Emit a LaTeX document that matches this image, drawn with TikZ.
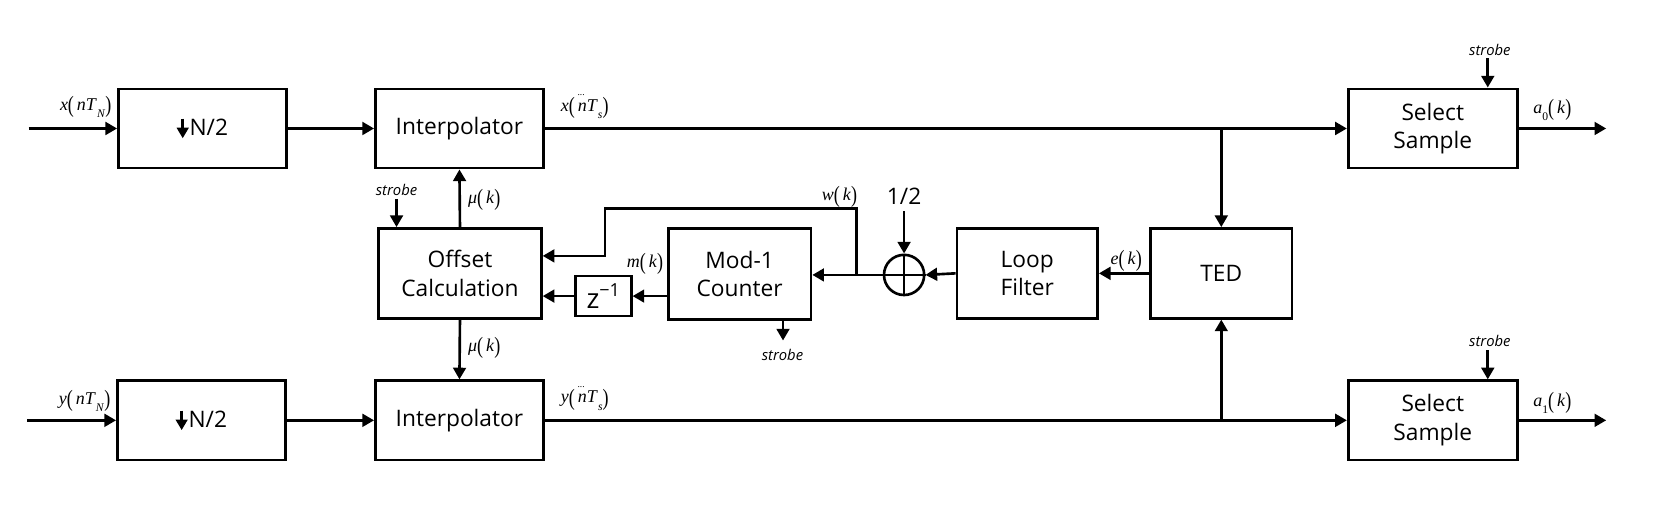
\documentclass[tikz,border=0pt]{standalone}
\usepackage{graphicx}
\usepackage{fontspec}
\setmainfont{Open Sans}
\newfontfamily\tms{Liberation Serif}
\usetikzlibrary{arrows.meta}
\newcommand\boxfont{\fontsize{21.5}{27}\selectfont}
\newcommand\labfont{\fontsize{17}{19}\selectfont\tms}
\newcommand\strfont{\fontsize{14}{16}\selectfont\itshape}
\newcommand\vr[1]{\textit{#1}}
\newcommand\lp{\raisebox{-0.12em}{\scalebox{1}[1.3]{(}}}
\newcommand\rp{\raisebox{-0.12em}{\scalebox{1}[1.3]{)}}}
\newcommand\sbs[1]{\raisebox{-0.42em}{\fontsize{11}{11}\selectfont #1}}
\newcommand\dn{\makebox[0pt][l]{\raisebox{0.85em}{\kern-0.02em\fontsize{9}{9}\selectfont...}}\vr{n}}
\newcommand\dwn{\tikz[baseline=0pt]{\draw[line width=2.4pt,-{Triangle[length=10pt,width=11pt]}] (0pt,16pt) -- (0pt,-2.5pt);}\kern1pt}
\begin{document}
\begin{tikzpicture}[x=1pt,y=-1pt,line width=2.5pt,
  blk/.style={draw, line width=2.5pt, align=center, inner sep=0pt, font=\boxfont},
  arr/.style={-{Triangle[length=11pt,width=12pt]}},
  lab/.style={inner sep=0pt, font=\labfont},
  strl/.style={inner sep=0pt, font=\strfont}]
\useasboundingbox (0,0) rectangle (1568,488);

% blocks
\node[blk, minimum width=159pt, minimum height=75pt] (nd1) at (191.5,121.5) {\dwn N/2};
\node[blk, minimum width=159pt, minimum height=75pt] (ip1) at (434.5,121.5) {Interpolator};
\node[blk, minimum width=160pt, minimum height=75pt] (ss1) at (1355,121.5) {Select\\Sample};
\node[blk, minimum width=154pt, minimum height=85pt] (off) at (435,258.5) {Offset\\Calculation};
\node[blk, minimum width=53pt, minimum height=38pt] (zb) at (570.5,280) {{\fontsize{26}{26}\selectfont z}\raisebox{0.55em}{\fontsize{17}{17}\selectfont −1}};
\node[blk, minimum width=135pt, minimum height=86pt] (mod) at (699.5,259) {Mod-1\\Counter};
\node[circle, draw, line width=2.5pt, minimum size=38pt, inner sep=0pt] (add) at (855,260) {};
\node[blk, minimum width=133pt, minimum height=85pt] (lf) at (971.5,258.5) {Loop\\Filter};
\node[blk, minimum width=134pt, minimum height=85pt] (ted) at (1155,258.5) {TED};
\node[blk, minimum width=159pt, minimum height=75pt] (nd2) at (190.5,397.5) {\dwn N/2};
\node[blk, minimum width=159pt, minimum height=75pt] (ip2) at (434.5,397.5) {Interpolator};
\node[blk, minimum width=160pt, minimum height=75pt] (ss2) at (1355,397.5) {Select\\Sample};

\draw[line width=1.6pt] (add.north) -- (add.south) (add.west) -- (add.east);

% coordinates
\coordinate (in1) at (27,121.5);
\coordinate (in2) at (26,397.5);
\coordinate (out1) at (1519,121.5);
\coordinate (out2) at (1519,397.5);
\coordinate (j1) at (ted.north |- ip1.east);
\coordinate (j2) at (ted.south |- ip2.east);
\coordinate (st1) at (1407,55);
\coordinate (st2) at (1407,331);
\coordinate (st3) at (375,188);
\coordinate (ms) at (740.5,302);
\coordinate (mse) at (740.5,322);
\coordinate (hf) at (855,200);
\coordinate (wj) at (810,260);
\coordinate (wt) at (572,197);
\coordinate (wl) at (off.east |- 0,242);

% top row
\draw[arr] (in1) -- (nd1.west);
\draw[arr] (nd1.east) -- (ip1.west);
\draw[arr] (ip1.east) -- (ss1.west);
\draw[arr] (j1) -- (ted.north);
\draw[arr] (ss1.east) -- (out1);
\draw[arr] (st1) -- (st1 |- ss1.north);

% bottom row
\draw[arr] (in2) -- (nd2.west);
\draw[arr] (nd2.east) -- (ip2.west);
\draw[arr] (ip2.east) -- (ss2.west);
\draw[arr] (j2) -- (ted.south);
\draw[arr] (ss2.east) -- (out2);
\draw[arr] (st2) -- (st2 |- ss2.north);

% middle
\draw[arr] (off.north) -- (ip1.south);
\draw[arr] (off.south) -- (ip2.north);
\draw[arr] (st3) -- (st3 |- off.north);
\draw[arr] (mod.west |- zb.east) -- (zb.east);
\draw[arr] (zb.west) -- (zb.west -| off.east);
\draw[arr] (ted.west) -- (lf.east);
\draw[arr] (lf.west) -- (add.east);
\draw[arr] (add.west) -- (add.west -| mod.east);
\draw[arr] (hf) -- (add.north);
\draw[arr] (wj) |- (wt) |- (wl);
\draw[arr] (ms) -- (mse);

% labels
\node[lab] (lx1) at (81,101) {\vr{x}\lp\,\vr{nT}\sbs{\vr{N}}\rp};
\node[lab] (ly1) at (80,379) {\vr{y}\lp\,\vr{nT}\sbs{\vr{N}}\rp};
\node[lab] (lx2) at (553,101) {\vr{x}\lp\,\dn\vr{T}\sbs{\vr{s}}\rp};
\node[lab] (ly2) at (553,377) {\vr{y}\lp\,\dn\vr{T}\sbs{\vr{s}}\rp};
\node[lab] (la0) at (1468,104) {\vr{a}\sbs{0}\lp\,\vr{k}\rp};
\node[lab] (la1) at (1468,381) {\vr{a}\sbs{1}\lp\,\vr{k}\rp};
\node[lab] (lmu1) at (458,189) {\vr{μ}\lp\,\vr{k}\rp};
\node[lab] (lmu2) at (458,329) {\vr{μ}\lp\,\vr{k}\rp};
\node[lab] (lm) at (610,250) {\vr{m}\lp\,\vr{k}\rp};
\node[lab] (lw) at (794,186) {\vr{w}\lp\,\vr{k}\rp};
\node[lab] (le) at (1065,247) {\vr{e}\lp\,\vr{k}\rp};
\node[inner sep=0pt, font=\boxfont] (lh) at (855,186) {1/2};
\node[strl] (s1) at (1409,47) {strobe};
\node[strl] (s2) at (1409,322) {strobe};
\node[strl] (s3) at (375,180) {strobe};
\node[strl] (s4) at (740,336) {strobe};
\end{tikzpicture}
\end{document}
